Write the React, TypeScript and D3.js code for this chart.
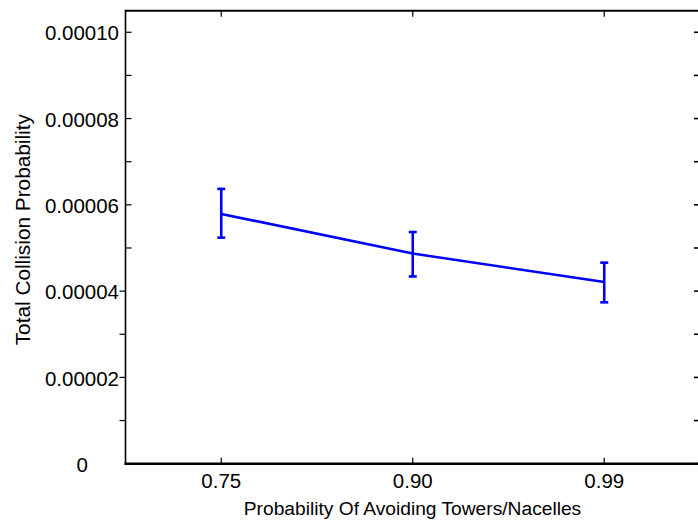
import React from "react";
import * as d3 from "d3";

const categories = ["0.75", "0.90", "0.99"];
const means = [0.0000579, 0.0000487, 0.0000421];
const upper = [0.0000637, 0.0000537, 0.0000466];
const lower = [0.0000524, 0.0000434, 0.0000374];
const yTicks = [0, 0.00002, 0.00004, 0.00006, 0.00008, 0.0001];
const yTickLabels = ["0", "0.00002", "0.00004", "0.00006", "0.00008", "0.00010"];
const yMinorTicks = [0.00001, 0.00003, 0.00005, 0.00007, 0.00009];

const W = 698;
const H = 520;
const left = 125.5;
const right = 700;
const top = 10.7;
const bottom = 463.7;

export default function App() {
  const x = d3.scalePoint<string>().domain(categories).range([left, right]).padding(0.5);
  const y = d3.scaleLinear().domain([0, 0.000105]).range([bottom, top]);
  const line = d3
    .line<number>()
    .x((_, i) => x(categories[i])!)
    .y((d) => y(d));
  const font = "Arial, 'Liberation Sans', sans-serif";
  const blue = "#0000ff";
  const tickLen = 6;
  const allY = [...yTicks, ...yMinorTicks];
  return (
    <svg width={W} height={H} style={{ position: "absolute", left: 0, top: 0, background: "#fff" }}>
      <rect x={0} y={0} width={W} height={H} fill="#fff" />
      {/* frame */}
      <line x1={left} x2={right} y1={top} y2={top} stroke="#000" strokeWidth={2} />
      <line x1={left} x2={left} y1={top - 1} y2={bottom + 1} stroke="#000" strokeWidth={1.6} />
      <line x1={left - 1} x2={right} y1={bottom} y2={bottom} stroke="#000" strokeWidth={2.4} />
      {/* y ticks */}
      {allY.map((t, i) => {
        const inward = t >= 0.000049;
        return (
          <g key={"yt" + i}>
            {t > 0 && (
              <line
                x1={inward ? left : left - tickLen}
                x2={inward ? left + tickLen : left}
                y1={y(t)}
                y2={y(t)}
                stroke="#000"
                strokeWidth={1.2}
              />
            )}
            <line x1={right - tickLen} x2={right} y1={y(t)} y2={y(t)} stroke="#000" strokeWidth={1.6} />
          </g>
        );
      })}
      {yTicks.map((t, i) => (
        <text
          key={"yl" + i}
          x={t === 0 ? 88 : 119}
          y={y(t) + 8.2}
          textAnchor="end"
          fontFamily={font}
          fontSize={20.5}
          fill="#000"
        >
          {yTickLabels[i]}
        </text>
      ))}
      {/* x ticks */}
      {categories.map((c) => (
        <g key={"xt" + c}>
          <line x1={x(c)!} x2={x(c)!} y1={bottom} y2={bottom - tickLen} stroke="#000" strokeWidth={1.2} />
          <line x1={x(c)!} x2={x(c)!} y1={top} y2={top + tickLen} stroke="#000" strokeWidth={1.2} />
          <text x={x(c)!} y={487.5} textAnchor="middle" fontFamily={font} fontSize={20.5} fill="#000">
            {c}
          </text>
        </g>
      ))}
      <text x={412.5} y={515} textAnchor="middle" fontFamily={font} fontSize={19.2} fill="#000">
        Probability Of Avoiding Towers/Nacelles
      </text>
      <text
        transform={`translate(30,${229.7}) rotate(-90)`}
        textAnchor="middle"
        fontFamily={font}
        fontSize={20.8}
        fill="#000"
      >
        Total Collision Probability
      </text>
      {/* data line */}
      <path d={line(means)!} fill="none" stroke={blue} strokeWidth={2.6} />
      {categories.map((c, i) => {
        const cx = x(c)!;
        return (
          <g key={"eb" + c} stroke={blue} strokeWidth={2.6}>
            <line x1={cx} x2={cx} y1={y(upper[i])} y2={y(lower[i])} />
            <line x1={cx - 4} x2={cx + 4} y1={y(upper[i])} y2={y(upper[i])} />
            <line x1={cx - 4} x2={cx + 4} y1={y(lower[i])} y2={y(lower[i])} />
          </g>
        );
      })}
    </svg>
  );
}
